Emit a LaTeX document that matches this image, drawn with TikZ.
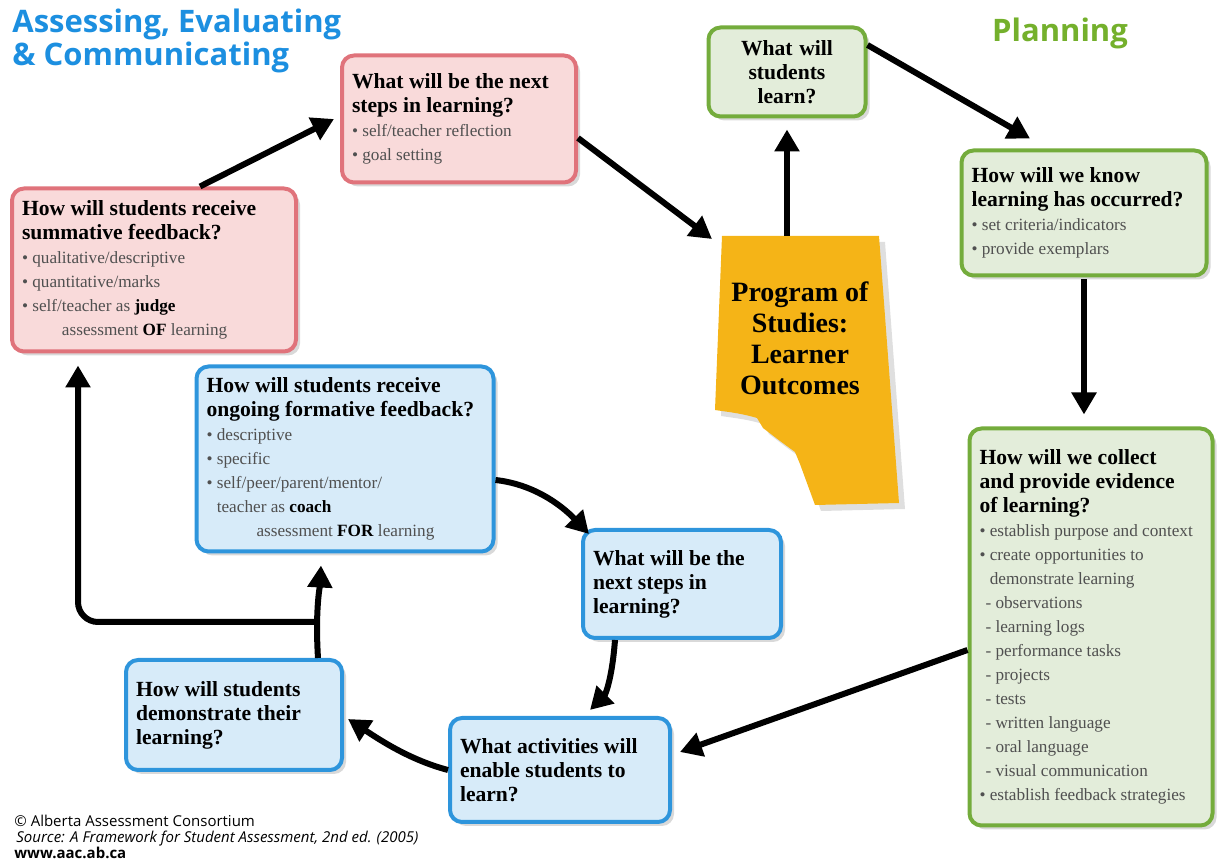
\documentclass[tikz,border=0pt]{standalone}
\usepackage{fontspec}
\setmainfont{Liberation Serif}
\newfontfamily\headfont{Open Sans}
\usetikzlibrary{arrows.meta,positioning,shadows}

\definecolor{redfill}{HTML}{F9DADA}
\definecolor{redline}{HTML}{E0737B}
\definecolor{greenfill}{HTML}{E3EDDA}
\definecolor{greenline}{HTML}{74AC3C}
\definecolor{bluefill}{HTML}{D7EBF9}
\definecolor{blueline}{HTML}{2E95DC}
\definecolor{albertayellow}{HTML}{F5B417}
\definecolor{titleblue}{HTML}{1C8FE0}
\definecolor{titlegreen}{HTML}{74B02C}
\definecolor{bodygrey}{HTML}{505050}

\newcommand{\hd}[1]{{\fontsize{10.8}{12}\selectfont\bfseries\raggedright\spaceskip=0pt\xspaceskip=0pt\hyphenpenalty=10000 #1\par}}
\newcommand{\bl}[1]{{\fontsize{8.6}{12}\selectfont\color{bodygrey}\raggedright\spaceskip=0pt\xspaceskip=0pt\hyphenpenalty=10000 #1\par}}
\newcommand{\bu}{\textbullet\ }

\tikzset{
  qbox/.style={rectangle,rounded corners=6pt,line width=2pt,inner xsep=5pt,inner ysep=4pt,align=left,
    drop shadow={opacity=0.3,shadow xshift=2pt,shadow yshift=-2pt}},
  redbox/.style={qbox,draw=redline,fill=redfill},
  greenbox/.style={qbox,draw=greenline,fill=greenfill},
  bluebox/.style={qbox,draw=blueline,fill=bluefill},
  flow/.style={line width=3pt,-{Triangle[length=11pt,width=12pt]}},
  titletext/.style={inner sep=0pt,font=\headfont\bfseries\fontsize{15.5}{16.5}\selectfont},
}

\begin{document}
\begin{tikzpicture}[x=0.5pt,y=0.5pt]
\useasboundingbox (0,0) rectangle (1217,-860);

% titles
\node[titletext,anchor=north west,align=left,text=titleblue] (assess) at (12,-9) {Assessing, Evaluating\\\& Communicating};
\node[titletext,text=titlegreen] (plan) at (1060,-33) {Planning};

% program of studies
\fill[albertayellow,drop shadow={opacity=0.25,shadow xshift=3pt,shadow yshift=-3pt}]
  (722,-236) -- (879,-236) -- (899,-503) -- (815,-505) -- (800,-464) -- (795,-452)
  -- (780,-441) -- (763,-428) -- (757,-418) .. controls (740,-413) and (728,-412) .. (715,-410) -- cycle;
\coordinate (abnw) at (712,-239);
\coordinate (abtop) at (787,-236);
\node[align=center,font=\bfseries\fontsize{14}{15.5}\selectfont] (prog) at (800,-338) {Program of\\Studies:\\Learner\\Outcomes};

% red
\node[redbox,text width=107pt,minimum height=63.5pt] (redA) at (459,-119)
  {\hd{What will be the next\\steps in learning?}\bl{\bu self/teacher reflection\\\bu goal setting}};
\node[redbox,text width=132pt,minimum height=81.5pt] (redB) at (154,-270)
  {\hd{How will students receive\\summative feedback?}\bl{\bu qualitative/descriptive\\\bu quantitative/marks\\\bu self/teacher as \textcolor{black}{\textbf{judge}}\\\hspace*{20pt}assessment \textcolor{black}{\textbf{OF}} learning}};

% green
\node[greenbox,align=center,text width=68.5pt,minimum height=44.5pt] (greenA) at (787,-72)
  {{\fontsize{10.8}{12}\selectfont\bfseries What will\\students\\learn?}};
\node[greenbox,text width=112.5pt,minimum height=62.5pt] (greenB) at (1084,-213)
  {\hd{How will we know\\learning has occurred?}\bl{\bu set criteria/indicators\\\bu provide exemplars}};
\node[greenbox,text width=111.5pt,minimum height=198.5pt] (greenC) at (1091,-627)
  {\hd{How will we collect\\and provide evidence\\of learning?}\bl{\bu establish purpose and context\\\bu create opportunities to\\\hphantom{\bu}demonstrate learning\\\hspace*{3pt}- observations\\\hspace*{3pt}- learning logs\\\hspace*{3pt}- performance tasks\\\hspace*{3pt}- projects\\\hspace*{3pt}- tests\\\hspace*{3pt}- written language\\\hspace*{3pt}- oral language\\\hspace*{3pt}- visual communication\\\bu establish feedback strategies}};

% blue
\node[bluebox,text width=138.5pt,minimum height=92.5pt] (blueA) at (345,-459)
  {\hd{How will students receive\\ongoing formative feedback?}\bl{\bu descriptive\\\bu specific\\\bu self/peer/parent/mentor/\\\hphantom{\bu}teacher as \textcolor{black}{\textbf{coach}}\\\hspace*{25pt}assessment \textcolor{black}{\textbf{FOR}} learning}};
\node[bluebox,text width=89pt,minimum height=54pt] (blueB) at (682,-584)
  {\hd{What will be the\\next steps in\\learning?}};
\node[bluebox,text width=100pt,minimum height=52pt] (blueC) at (560,-770)
  {\hd{What activities will\\enable students to\\learn?}};
\node[bluebox,text width=98pt,minimum height=55pt] (blueD) at (234,-715)
  {\hd{How will students\\demonstrate their\\learning?}};

% connectors
\draw[flow] ([xshift=23pt]redB.north) -- ([xshift=-3pt]redA.west);
\draw[flow] ([yshift=-9.5pt]redA.east) -- (abnw);
\draw[flow] (abtop) -- ([yshift=-5.5pt]greenA.south);
\draw[flow] ([yshift=13.5pt]greenA.east) -- ([xshift=-27pt,yshift=5pt]greenB.north);
\draw[flow,shorten <=1pt,shorten >=6pt] (greenB.south) -- (greenB.south |- greenC.north);
\draw[flow] ([yshift=-11.5pt]greenC.west) -- ([xshift=4pt,yshift=9pt]blueC.east);
\draw[flow] ([yshift=-10.5pt]blueA.east) .. controls (540,-485) and (568,-512) .. ([xshift=4pt,yshift=-3pt]blueB.north west);
\draw[flow] ([xshift=-33.5pt]blueB.south) .. controls (612,-680) and (605,-695) .. ([xshift=15pt,yshift=3pt]blueC.north);
\draw[flow] (blueC.west) .. controls (410,-760) and (380,-740) .. ([xshift=2pt,yshift=-2pt]blueD.east);
\draw[flow] ([xshift=42pt]blueD.north) .. controls (315,-610) and (320,-585) .. ([xshift=-12pt,yshift=-6pt]blueA.south);
\coordinate (jn) at (317,-622);
\draw[flow,rounded corners=10pt] (jn) -| ([xshift=-38pt,yshift=-6pt]redB.south);

% credit
\node[anchor=north west,align=left,inner sep=0pt,font=\headfont\fontsize{7.5}{8}\selectfont] (credit) at (14,-815)
  {\textcopyright{} Alberta Assessment Consortium\\\hspace*{1pt}\textit{Source: A Framework for Student Assessment, 2nd ed. (2005)}\\\textbf{www.aac.ab.ca}};
\end{tikzpicture}
\end{document}
